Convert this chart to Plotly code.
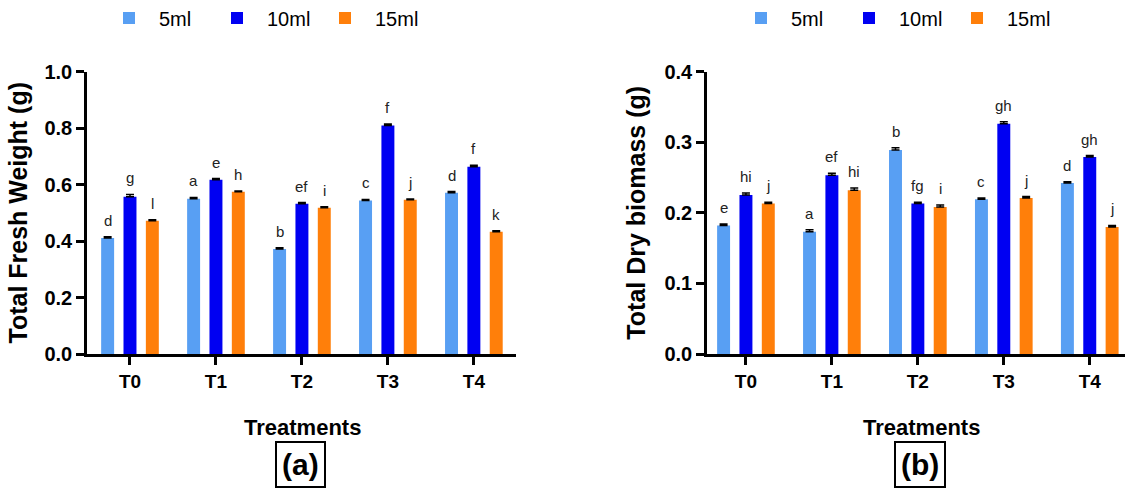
import plotly.graph_objects as go

treatments = ["T0", "T1", "T2", "T3", "T4"]
series_names = ["5ml", "10ml", "15ml"]
colors = ["#589FF3", "#0000F2", "#FF7F0A"]

# Panel (a): Total Fresh Weight (g)
fresh_5 = [0.411, 0.550, 0.372, 0.543, 0.571]
fresh_10 = [0.557, 0.617, 0.532, 0.809, 0.663]
fresh_15 = [0.472, 0.574, 0.518, 0.546, 0.433]
fresh_err_5 = [0.004, 0.004, 0.004, 0.004, 0.004]
fresh_err_10 = [0.008, 0.004, 0.004, 0.005, 0.005]
fresh_err_15 = [0.003, 0.003, 0.003, 0.003, 0.003]
fresh_letters_5 = ["d", "a", "b", "c", "d"]
fresh_letters_10 = ["g", "e", "ef", "f", "f"]
fresh_letters_15 = ["l", "h", "i", "j", "k"]

# Panel (b): Total Dry biomass (g)
dry_5 = [0.182, 0.173, 0.289, 0.219, 0.242]
dry_10 = [0.225, 0.253, 0.213, 0.326, 0.279]
dry_15 = [0.213, 0.232, 0.208, 0.221, 0.180]
dry_err_5 = [0.002, 0.003, 0.003, 0.002, 0.002]
dry_err_10 = [0.003, 0.003, 0.002, 0.003, 0.002]
dry_err_15 = [0.002, 0.003, 0.003, 0.002, 0.002]
dry_letters_5 = ["e", "a", "b", "c", "d"]
dry_letters_10 = ["hi", "ef", "fg", "gh", "gh"]
dry_letters_15 = ["j", "hi", "i", "j", "j"]

FONT = "Arial, Liberation Sans, Helvetica, sans-serif"
BARGAP = 0.22
slot = (1 - BARGAP) / 3
offsets = [-slot, 0.0, slot]

fig = go.Figure()

panels = [
    dict(vals=[fresh_5, fresh_10, fresh_15], errs=[fresh_err_5, fresh_err_10, fresh_err_15],
         letters=[fresh_letters_5, fresh_letters_10, fresh_letters_15], xa="x", ya="y", legend="legend"),
    dict(vals=[dry_5, dry_10, dry_15], errs=[dry_err_5, dry_err_10, dry_err_15],
         letters=[dry_letters_5, dry_letters_10, dry_letters_15], xa="x2", ya="y2", legend="legend2"),
]

xs = list(range(len(treatments)))
annotations = []
for p in panels:
    for k in range(3):
        fig.add_trace(go.Bar(
            x=xs, y=p["vals"][k], name=series_names[k],
            marker=dict(color=colors[k], line=dict(width=0)),
            error_y=dict(type="data", array=p["errs"][k], arrayminus=[0] * 5, symmetric=False,
                         color="black", thickness=1.5, width=4),
            xaxis=p["xa"], yaxis=p["ya"], legend=p["legend"], offsetgroup=str(k),
        ))
        for i in xs:
            annotations.append(dict(
                x=i + offsets[k], y=p["vals"][k][i] + p["errs"][k][i], xref=p["xa"], yref=p["ya"],
                text=p["letters"][k][i], showarrow=False, xanchor="center", yanchor="bottom", yshift=6,
                font=dict(family=FONT, size=15, color="#222222"),
            ))

# x-axis titles and panel labels
for cx in [302 / 1125, 921 / 1125]:
    annotations.append(dict(x=cx, y=1 - 427 / 491, xref="paper", yref="paper", text="Treatments",
                            showarrow=False, xanchor="center", yanchor="middle",
                            font=dict(family=FONT, size=22, color="black", weight="bold")))
for cx, lab in [(300 / 1125, "(a)"), (920 / 1125, "(b)")]:
    annotations.append(dict(x=cx, y=1 - 464 / 491, xref="paper", yref="paper", text=lab,
                            showarrow=False, xanchor="center", yanchor="middle",
                            bordercolor="black", borderwidth=2, borderpad=5,
                            font=dict(family=FONT, size=30, color="black", weight="bold")))

axis_common = dict(showline=True, linecolor="black", linewidth=2.5, ticks="outside", ticklen=8,
                   tickwidth=2.5, tickcolor="black", showgrid=False, zeroline=False, automargin=False)
ytickfont = dict(family=FONT, size=20, color="black", weight="bold")
xtickfont = dict(family=FONT, size=19, color="black", weight="bold")
ytitlefont = dict(family=FONT, size=25, color="black", weight="bold")
legfont = dict(family=FONT, size=20, color="black")

ydom = [1 - 354 / 491, 1 - 71.5 / 491]
fig.update_layout(
    width=1125, height=491, margin=dict(l=0, r=0, t=0, b=0, autoexpand=False),
    plot_bgcolor="white", paper_bgcolor="white",
    barmode="group", bargap=BARGAP, bargroupgap=0.42,
    xaxis=dict(domain=[87 / 1125, 516 / 1125], range=[-0.5, 4.49], tickvals=xs, ticktext=treatments,
               anchor="y", tickfont=xtickfont, **axis_common),
    yaxis=dict(domain=ydom, range=[0, 1.0], tickvals=[0, 0.2, 0.4, 0.6, 0.8, 1.0], tickformat=".1f",
               anchor="x", tickfont=ytickfont,
               title=dict(text="Total Fresh Weight (g)", standoff=10, font=ytitlefont),
               **axis_common),
    xaxis2=dict(domain=[707 / 1125, 1.0], range=[-0.453, 4.41], tickvals=xs, ticktext=treatments,
                anchor="y2", tickfont=xtickfont, **axis_common),
    yaxis2=dict(domain=ydom, range=[0, 0.4], tickvals=[0, 0.1, 0.2, 0.3, 0.4], tickformat=".1f",
                anchor="x2", tickfont=ytickfont,
                title=dict(text="Total Dry biomass (g)", standoff=12, font=ytitlefont),
                **axis_common),
    legend=dict(orientation="h", x=99 / 1125, y=1 - 18 / 491, xanchor="left", yanchor="middle",
                itemwidth=50, entrywidth=43, font=legfont, bgcolor="rgba(0,0,0,0)"),
    legend2=dict(orientation="h", x=731 / 1125, y=1 - 18 / 491, xanchor="left", yanchor="middle",
                 itemwidth=50, entrywidth=43, font=legfont, bgcolor="rgba(0,0,0,0)"),
    annotations=annotations,
    showlegend=True,
)

fig.write_html("out.html", config={"displayModeBar": False},
               post_script="document.body.style.margin='0px';")
